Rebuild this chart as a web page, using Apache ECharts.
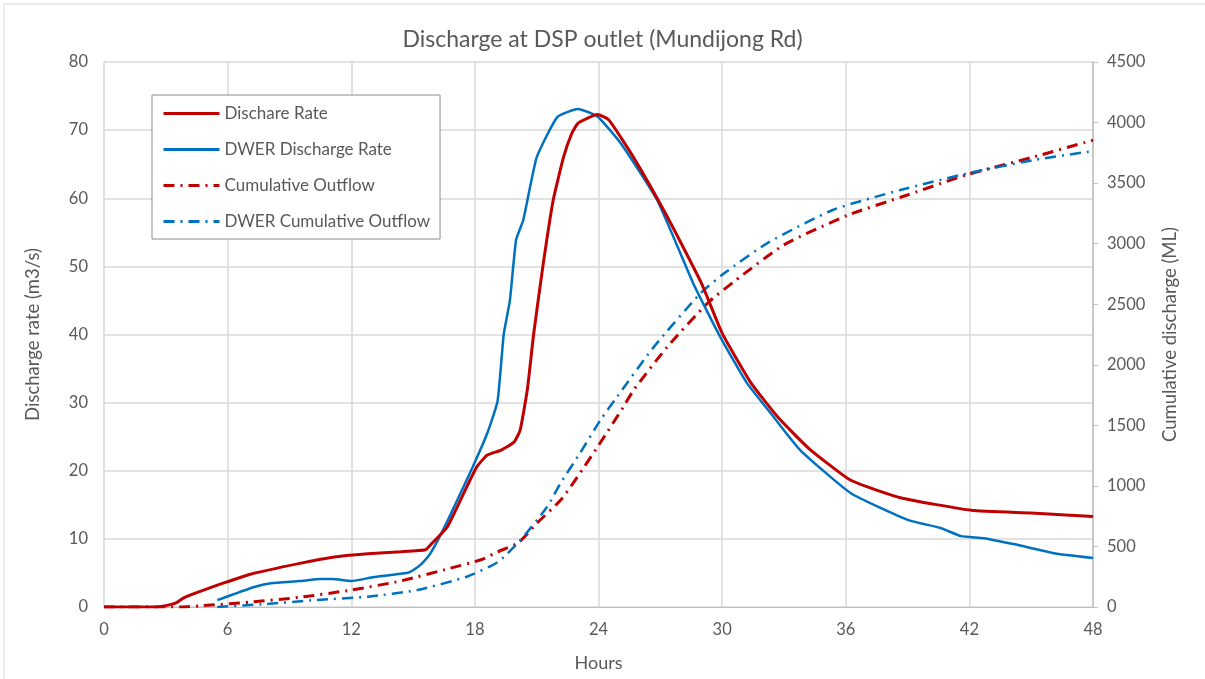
<!DOCTYPE html>
<html>
<head>
<meta charset="utf-8">
<title>Discharge at DSP outlet</title>
<script src="https://cdn.jsdelivr.net/npm/echarts@6/dist/echarts.min.js"></script>
<style>
	html, body { margin: 0; padding: 0; background: #fff; }
	#dischargeChart { width: 1205px; height: 679px; }
</style>
</head>
<body>
<div id="dischargeChart"></div>
<script>
// 流量 (m3/s)
var rateHours = [0, 2.5, 3.0, 3.5, 3.85, 4.5, 5.5, 7.1, 9.5, 11.1, 12.8, 14.4, 15.6, 15.9, 16.65, 17.6, 18.1, 18.6, 19.25, 19.9, 20.2, 20.55, 20.85, 21.3, 21.8, 22.3, 22.7, 23.0, 23.5, 23.95, 24.5, 25.7, 27.35, 29, 30, 31.4, 32.7, 34.2, 36.25, 38.7, 42.1, 45, 48];
var rateValues = [0, 0, 0.2, 0.6, 1.3, 2.1, 3.2, 4.8, 6.4, 7.3, 7.8, 8.1, 8.4, 9.3, 11.7, 17.6, 20.6, 22.3, 23, 24.2, 26, 32, 40, 50, 59.7, 66, 69.5, 71, 71.8, 72.3, 71.5, 66, 57.2, 47.5, 40.2, 32.9, 27.9, 23.3, 18.6, 16, 14.2, 13.8, 13.3];

var dwerRateHours = [5.5, 7.25, 8.1, 9.5, 10.5, 11.1, 12, 13.1, 14.7, 15, 15.4, 15.85, 16.65, 17.9, 18.6, 19.1, 19.4, 19.7, 20.0, 20.35, 21.0, 22.0, 23.0, 23.95, 25.07, 26.85, 28.6, 29.9, 31.2, 32.5, 33.8, 36.25, 39, 40.6, 41.6, 42.7, 44.2, 46.1, 48];
var dwerRateValues = [1, 2.9, 3.5, 3.8, 4.1, 4.1, 3.8, 4.4, 5, 5.4, 6.3, 7.9, 12.5, 20.6, 25.5, 30.2, 40, 45, 53.9, 56.8, 66, 71.9, 73.1, 72, 68.1, 59.7, 47.5, 39.7, 32.9, 27.9, 23, 16.7, 12.8, 11.6, 10.4, 10.1, 9.2, 7.9, 7.2];

// 累计 (ML)
var cumHours = [0, 3.7, 4.7, 7.1, 9.5, 12, 14.4, 16.8, 18.3, 19.1, 20.1, 21.0, 22.2, 23.2, 24.1, 25.2, 25.7, 27.35, 29.3, 30.6, 33, 36.1, 38.7, 41.9, 45.1, 48];
var cumValues = [0, 0, 10, 40, 80, 140, 215, 320, 390, 455, 530, 690, 890, 1130, 1360, 1650, 1790, 2150, 2510, 2690, 2990, 3235, 3385, 3570, 3715, 3855];

var dwerCumHours = [5.5, 7.9, 10.3, 12.8, 15.2, 17.6, 19.1, 20.2, 21.5, 22.15, 23.1, 24.1, 24.9, 26.7, 28.95, 30.1, 32.2, 35.4, 38.7, 41.9, 45.1, 48];
var dwerCumValues = [0, 25, 58, 85, 140, 250, 370, 550, 825, 1020, 1270, 1545, 1735, 2150, 2590, 2755, 3005, 3280, 3445, 3580, 3690, 3765];

var seriesNames = ['Dischare Rate', 'DWER Discharge Rate', 'Cumulative Outflow', 'DWER Cumulative Outflow'];

var DischargeChart = {
	font: 'Lato, "Liberation Sans", sans-serif',
	textColor: '#595959',
	gridColor: '#D9D9D9',
	init: function() {
		this.chart();
	},
	pairs: function(xs, ys) {
		var out = [];
		for (var i = 0; i < xs.length; i++) {
			out.push([xs[i], ys[i]]);
		}
		return out;
	},
	chart: function() {
		var self = this;
		var dischargeChart = echarts.init(document.getElementById('dischargeChart'));
		var dashDot = [11, 6, 2, 6];
		var option = {
			backgroundColor: '#fff',
			animation: false,
			textStyle: { fontFamily: self.font },
			title: {
				text: 'Discharge at DSP outlet (Mundijong Rd)',
				left: 'center',
				top: 23,
				textStyle: { fontFamily: self.font, fontSize: 23, fontWeight: 'normal', color: self.textColor }
			},
			graphic: [{
				type: 'rect',
				shape: { x: 4, y: 4, width: 1220, height: 700 },
				style: { fill: 'none', stroke: '#D9D9D9', lineWidth: 1 },
				silent: true
			}],
			legend: {
				orient: 'vertical',
				left: 152,
				top: 95,
				padding: [10, 10, 9, 10],
				itemWidth: 56,
				itemHeight: 14,
				itemGap: 19,
				backgroundColor: '#fff',
				borderColor: '#8c8c8c',
				borderWidth: 1,
				itemStyle: { opacity: 0 },
				lineStyle: { width: 3 },
				textStyle: { fontFamily: self.font, fontSize: 17, color: self.textColor },
				data: seriesNames
			},
			grid: {
				left: 104,
				right: 112,
				top: 62,
				bottom: 72
			},
			xAxis: {
				type: 'value',
				min: 0,
				max: 48,
				interval: 6,
				name: 'Hours',
				nameLocation: 'middle',
				nameGap: 47,
				nameTextStyle: { fontFamily: self.font, fontSize: 18, color: self.textColor },
				axisLine: { show: true, lineStyle: { color: '#BFBFBF', width: 1 } },
				axisTick: { show: false },
				axisLabel: { fontFamily: self.font, fontSize: 16.5, color: self.textColor, margin: 14 },
				splitLine: { show: true, lineStyle: { color: self.gridColor, width: 1.5 } }
			},
			yAxis: [{
				type: 'value',
				min: 0,
				max: 80,
				interval: 10,
				name: 'Discharge rate (m3/s)',
				nameLocation: 'middle',
				nameRotate: 90,
				nameGap: 61,
				nameTextStyle: { fontFamily: self.font, fontSize: 18.5, color: self.textColor },
				axisLine: { show: false },
				axisTick: { show: false },
				axisLabel: { fontFamily: self.font, fontSize: 16.5, color: self.textColor, margin: 16 },
				splitLine: { show: true, lineStyle: { color: self.gridColor, width: 1.5 } }
			}, {
				type: 'value',
				min: 0,
				max: 4500,
				interval: 500,
				position: 'right',
				name: 'Cumulative discharge (ML)',
				nameLocation: 'middle',
				nameRotate: 90,
				nameGap: 68,
				nameTextStyle: { fontFamily: self.font, fontSize: 18.5, color: self.textColor },
				axisLine: { show: true, lineStyle: { color: '#BFBFBF', width: 1.5 } },
				axisTick: { show: true, length: 5, lineStyle: { color: '#BFBFBF' } },
				axisLabel: {
					fontFamily: self.font, fontSize: 16.5, color: self.textColor, margin: 14,
					formatter: function(v) { return String(v); }
				},
				splitLine: { show: false }
			}],
			series: [{
				name: seriesNames[2],
				type: 'line',
				yAxisIndex: 1,
				showSymbol: false,
				symbol: 'none',
				smooth: 0.2,
				z: 2,
				itemStyle: { color: '#C00000' },
				lineStyle: { color: '#C00000', width: 3, type: dashDot },
				data: self.pairs(cumHours, cumValues)
			}, {
				name: seriesNames[3],
				type: 'line',
				yAxisIndex: 1,
				showSymbol: false,
				symbol: 'none',
				smooth: 0.2,
				z: 2,
				itemStyle: { color: '#0070C0' },
				lineStyle: { color: '#0070C0', width: 2.5, type: dashDot },
				data: self.pairs(dwerCumHours, dwerCumValues)
			}, {
				name: seriesNames[1],
				type: 'line',
				showSymbol: false,
				symbol: 'none',
				smooth: 0.15,
				z: 3,
				itemStyle: { color: '#0070C0' },
				lineStyle: { color: '#0070C0', width: 2.5 },
				data: self.pairs(dwerRateHours, dwerRateValues)
			}, {
				name: seriesNames[0],
				type: 'line',
				showSymbol: false,
				symbol: 'none',
				smooth: 0.15,
				z: 4,
				itemStyle: { color: '#C00000' },
				lineStyle: { color: '#C00000', width: 3 },
				data: self.pairs(rateHours, rateValues)
			}]
		};
		dischargeChart.setOption(option, true);
	}
};

DischargeChart.init();
</script>
</body>
</html>
